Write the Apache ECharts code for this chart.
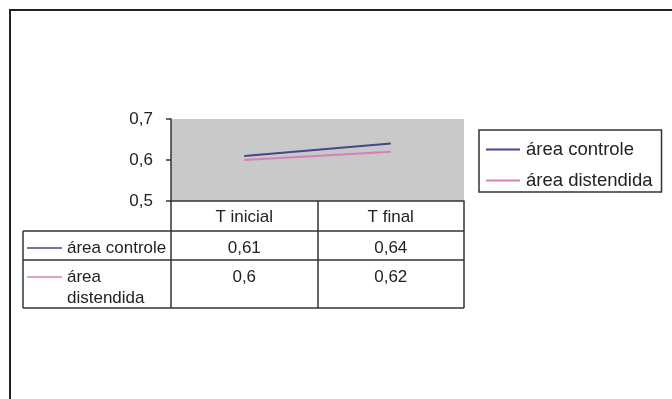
<!DOCTYPE html>
<html>
<head>
<meta charset="utf-8">
<script src="https://cdn.jsdelivr.net/npm/echarts@6/dist/echarts.min.js"></script>
<style>
  html, body { margin: 0; padding: 0; background: #fff; }
  #chart { width: 672px; height: 399px; }
</style>
</head>
<body>
<div id="chart"></div>
<script>
// Data
const categories = ['T inicial', 'T final'];
const seriesNames = ['área controle', 'área distendida'];
const areaControle = [0.61, 0.64];
const areaDistendida = [0.6, 0.62];
const tableRowLabels = ['área controle', 'área\ndistendida'];
const yTicks = [0.5, 0.6, 0.7];

// Layout
const FONT = 'Liberation Sans, Arial, sans-serif';
const TEXT = '#222';
const RULE = '#333';
const GRID = { left: 171, top: 119, width: 293, height: 82 };
const TABLE_LEFT = 23;
const HEADER_H = 30;
const ROW_H = [29, 48];
const colors = ['#46468a', '#d97fb5'];

const fmt = v => String(v).replace('.', ',');

const chart = echarts.init(document.getElementById('chart'));

chart.setOption({
  animation: false,
  backgroundColor: '#fff',
  textStyle: { fontFamily: FONT },
  grid: {
    left: GRID.left, top: GRID.top, width: GRID.width, height: GRID.height,
    show: true, backgroundColor: '#c9c9c9', borderWidth: 0
  },
  legend: {
    orient: 'vertical',
    left: 479, top: 130,
    padding: [10, 9, 2, 7],
    itemGap: 12,
    icon: 'rect',
    itemWidth: 34, itemHeight: 2,
    borderColor: RULE, borderWidth: 1.5,
    textStyle: { fontSize: 18.5, lineHeight: 18, color: TEXT, fontFamily: FONT, padding: [0, 0, 0, 1] },
    data: seriesNames
  },
  xAxis: {
    type: 'category',
    data: categories,
    boundaryGap: true,
    axisLine: { lineStyle: { color: RULE, width: 1.5 } },
    axisTick: { show: true, length: HEADER_H + ROW_H[0] + ROW_H[1], lineStyle: { color: RULE, width: 1.5 } },
    axisLabel: { fontSize: 17, color: TEXT, margin: 8, fontFamily: FONT }
  },
  yAxis: {
    type: 'value',
    min: yTicks[0], max: yTicks[yTicks.length - 1],
    interval: yTicks[1] - yTicks[0],
    splitLine: { show: false },
    axisLine: { show: true, lineStyle: { color: RULE, width: 1.5 } },
    axisTick: { show: true, length: 5, lineStyle: { color: RULE, width: 1.5 } },
    axisLabel: {
      fontSize: 17, color: TEXT, margin: 18, fontFamily: FONT,
      formatter: v => fmt(Math.round(v * 10) / 10)
    }
  },
  series: [
    {
      name: seriesNames[0], type: 'line', data: areaControle,
      symbol: 'none', lineStyle: { color: colors[0], width: 2 }, itemStyle: { color: colors[0] }
    },
    {
      name: seriesNames[1], type: 'line', data: areaDistendida,
      symbol: 'none', lineStyle: { color: colors[1], width: 2 }, itemStyle: { color: colors[1] }
    }
  ]
});

// Data table below the plot
const gridBottom = GRID.top + GRID.height;
const gridRight = GRID.left + GRID.width;
const headerBottom = gridBottom + HEADER_H;
const rowTops = [headerBottom, headerBottom + ROW_H[0]];
const tableBottom = rowTops[1] + ROW_H[1];
const rows = [areaControle, areaDistendida];

const graphics = [];

// frame around the whole chart
graphics.push({
  type: 'rect', silent: true,
  shape: { x: 10, y: 10, width: 720, height: 440 },
  style: { fill: 'none', stroke: '#222', lineWidth: 2 }
});

// horizontal rules of the table
[headerBottom, rowTops[1], tableBottom].forEach(y => {
  graphics.push({
    type: 'line', silent: true,
    shape: { x1: TABLE_LEFT, y1: y, x2: gridRight, y2: y },
    style: { stroke: RULE, lineWidth: 1.5 }
  });
});
// left edge of the row-label column
graphics.push({
  type: 'line', silent: true,
  shape: { x1: TABLE_LEFT, y1: headerBottom, x2: TABLE_LEFT, y2: tableBottom },
  style: { stroke: RULE, lineWidth: 1.5 }
});

const keyLineY = rowTops.map(t => t + 17);
const textTop = rowTops.map(t => t + 9);

rows.forEach((vals, r) => {
  // series key line + name
  graphics.push({
    type: 'line', silent: true,
    shape: { x1: TABLE_LEFT + 4, y1: keyLineY[r], x2: TABLE_LEFT + 39, y2: keyLineY[r] },
    style: { stroke: colors[r], lineWidth: 1.5 }
  });
  graphics.push({
    type: 'text', silent: true,
    x: TABLE_LEFT + 44, y: textTop[r] - 2,
    style: {
      text: tableRowLabels[r], fill: TEXT, font: '17px ' + FONT,
      lineHeight: 21, verticalAlign: 'top', align: 'left'
    }
  });
  // values
  vals.forEach((v, c) => {
    const x = chart.convertToPixel({ xAxisIndex: 0 }, c);
    graphics.push({
      type: 'text', silent: true,
      x: x, y: textTop[r],
      style: { text: fmt(v), fill: TEXT, font: '17px ' + FONT, align: 'center', verticalAlign: 'top' }
    });
  });
});

chart.setOption({ graphic: graphics });
</script>
</body>
</html>
